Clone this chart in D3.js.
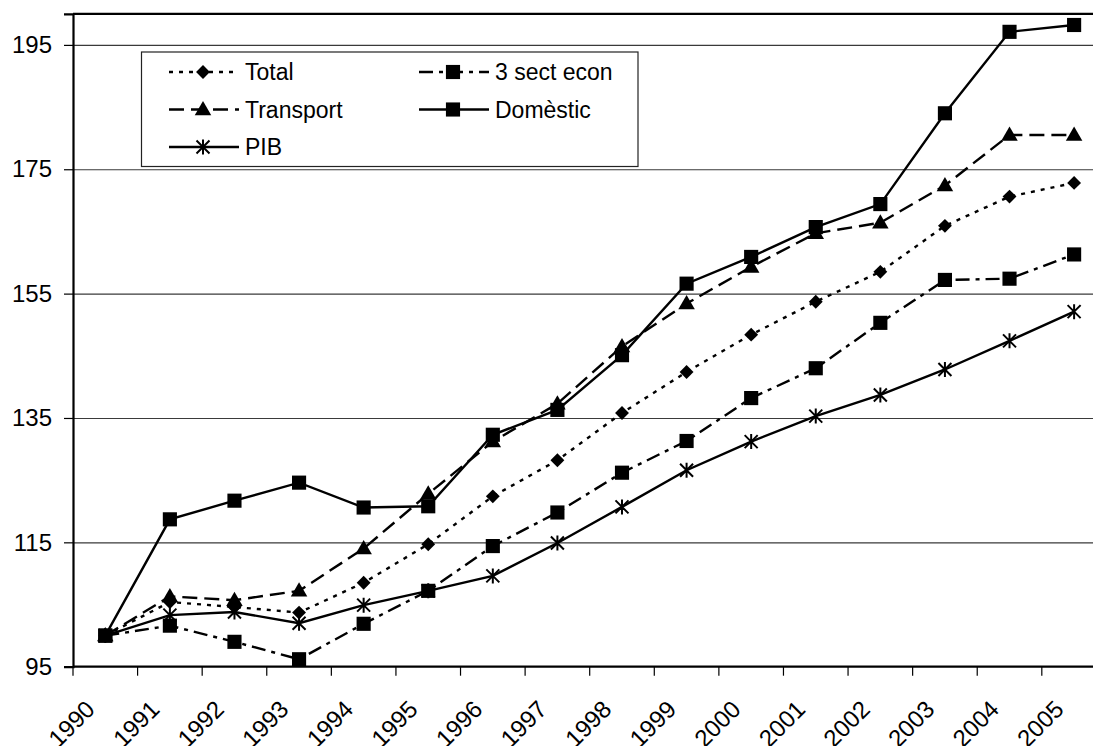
<!DOCTYPE html>
<html>
<head>
<meta charset="utf-8">
<script src="https://cdn.jsdelivr.net/npm/d3@7"></script>
<style>
  body { margin: 0; background: #fff; }
  svg { display: block; }
  text { font-family: "Liberation Sans", Arial, sans-serif; fill: #000; }
</style>
</head>
<body>
<svg id="chart" width="1093" height="746"></svg>
<script>
// Index values (1990 = 100)
const years = ["1990","1991","1992","1993","1994","1995","1996","1997","1998","1999","2000","2001","2002","2003","2004","2005"];
const total     = [100, 105.4, 104.6, 103.7, 108.5, 114.7, 122.4, 128.2, 135.8, 142.4, 148.4, 153.7, 158.5, 165.9, 170.6, 172.8];
const sectEcon  = [100, 101.6,  99.0,  96.2, 101.9, 107.2, 114.4, 119.8, 126.2, 131.3, 138.2, 143.0, 150.3, 157.2, 157.4, 161.3];
const transport = [100, 106.3, 105.7, 107.2, 114.0, 122.8, 131.2, 137.3, 146.5, 153.4, 159.3, 164.7, 166.4, 172.4, 180.5, 180.5];
const domestic  = [100, 118.7, 121.7, 124.6, 120.6, 120.8, 132.3, 136.3, 145.1, 156.6, 160.9, 165.7, 169.4, 184.0, 197.1, 198.2];
const pib       = [100, 103.3, 103.8, 102.0, 104.9, 107.2, 109.6, 114.9, 120.7, 126.6, 131.2, 135.3, 138.7, 142.8, 147.4, 152.1];
const yTicks = [95, 115, 135, 155, 175, 195];
const yDomain = [95, 200];

const svg = d3.select("#chart");
const W = 1093, H = 746;
svg.append("rect").attr("width", W).attr("height", H).attr("fill", "#fff");

const plot = { left: 73, right: 1106.4, top: 13.8, bottom: 666.7 };

const x = d3.scaleBand().domain(years).range([plot.left, plot.right]).padding(0);
const y = d3.scaleLinear().domain(yDomain).range([plot.bottom, plot.top]);
const cx = d => x(d) + x.bandwidth() / 2;

// Horizontal gridlines
svg.append("g")
  .attr("transform", `translate(${plot.left},0)`)
  .call(d3.axisLeft(y).tickValues(yTicks.filter(v => v > yDomain[0])).tickSize(-(plot.right - plot.left)).tickFormat(""))
  .call(g => g.select(".domain").remove())
  .call(g => g.selectAll("line").attr("stroke", "#3a3a3a").attr("stroke-width", 1.2));

// Plot frame (top and right edges)
svg.append("path")
  .attr("d", `M${plot.left},${plot.top}H${plot.right}V${plot.bottom}`)
  .attr("fill", "none").attr("stroke", "#000").attr("stroke-width", 2.2);

// Value axis
svg.append("g")
  .attr("transform", `translate(${plot.left},0)`)
  .call(d3.axisLeft(y).tickValues(yTicks).tickSize(9).tickPadding(12).tickFormat(d3.format("d")))
  .call(g => g.select(".domain").attr("stroke", "#000").attr("stroke-width", 2.2))
  .call(g => g.selectAll(".tick line").attr("stroke", "#000").attr("stroke-width", 1.2))
  .call(g => g.selectAll(".tick text").attr("font-size", 24).attr("font-family", '"Liberation Sans", Arial, sans-serif'));

// Category axis: ticks on band boundaries, labels centered on each band
const boundaries = years.map(d => x(d)).concat([plot.right]);
const xb = svg.append("g").attr("class", "x-axis");
xb.append("line")
  .attr("x1", plot.left).attr("x2", plot.right)
  .attr("y1", plot.bottom).attr("y2", plot.bottom)
  .attr("stroke", "#000").attr("stroke-width", 2.2);
xb.selectAll("line.tick").data(boundaries).join("line")
  .attr("class", "tick")
  .attr("x1", d => d).attr("x2", d => d)
  .attr("y1", plot.bottom).attr("y2", plot.bottom + 9)
  .attr("stroke", "#000").attr("stroke-width", 1.2);
xb.selectAll("text").data(years).join("text")
  .attr("text-anchor", "end")
  .attr("font-size", 24)
  .attr("transform", d => `translate(${cx(d) - 9},${plot.bottom + 44}) rotate(-45)`)
  .text(d => d);

// Marker shapes
function drawMarker(parent, type, px, py) {
  const g = parent.append("g").attr("transform", `translate(${px},${py})`);
  if (type === "diamond") {
    g.append("rect").attr("x", -4.9).attr("y", -4.9).attr("width", 9.8).attr("height", 9.8)
      .attr("transform", "rotate(45)").attr("fill", "#000");
  } else if (type === "square") {
    g.append("path").attr("d", d3.symbol(d3.symbolSquare, 200)()).attr("fill", "#000");
  } else if (type === "triangle") {
    g.append("path").attr("d", d3.symbol(d3.symbolTriangle, 118)()).attr("transform", "translate(0,1)").attr("fill", "#000");
  } else if (type === "star") {
    g.append("path").attr("d", "M-6.5,-6.5L6.5,6.5M-6.5,6.5L6.5,-6.5M0,-7.5L0,7.5")
      .attr("stroke", "#000").attr("stroke-width", 2).attr("fill", "none");
  }
}

const series = [
  { name: "Total",       values: total,     dash: "4,6",      marker: "diamond" },
  { name: "3 sect econ", values: sectEcon,  dash: "14,6,4,6", marker: "square" },
  { name: "Transport",   values: transport, dash: "15,7",     marker: "triangle" },
  { name: "Domèstic",    values: domestic,  dash: null,       marker: "square" },
  { name: "PIB",         values: pib,       dash: null,       marker: "star" }
];

const line = d3.line().x((v, i) => cx(years[i])).y(v => y(v));

series.forEach(s => {
  const g = svg.append("g").attr("class", "series");
  g.append("path")
    .attr("d", line(s.values))
    .attr("fill", "none").attr("stroke", "#000").attr("stroke-width", 2.4)
    .attr("stroke-dasharray", s.dash);
  s.values.forEach((v, i) => drawMarker(g, s.marker, cx(years[i]), y(v)));
});

// Legend
const lg = svg.append("g").attr("class", "legend");
lg.append("rect")
  .attr("x", 141.5).attr("y", 52).attr("width", 496.5).attr("height", 114.5)
  .attr("fill", "#fff").attr("stroke", "#222").attr("stroke-width", 1.2);
const legendPos = [
  { col: 0, row: 0 }, { col: 1, row: 0 },
  { col: 0, row: 1 }, { col: 1, row: 1 },
  { col: 0, row: 2 }
];
const colX = [169, 419], rowY = [72, 109.5, 147];
series.forEach((s, i) => {
  const p = legendPos[i];
  const x0 = colX[p.col], yy = rowY[p.row];
  lg.append("line")
    .attr("x1", x0).attr("x2", x0 + 70).attr("y1", yy).attr("y2", yy)
    .attr("stroke", "#000").attr("stroke-width", 2.4).attr("stroke-dasharray", s.dash);
  drawMarker(lg, s.marker, x0 + 34, yy);
  lg.append("text")
    .attr("x", x0 + 76).attr("y", yy + 8)
    .attr("font-size", 23)
    .text(s.name);
});
</script>
</body>
</html>
